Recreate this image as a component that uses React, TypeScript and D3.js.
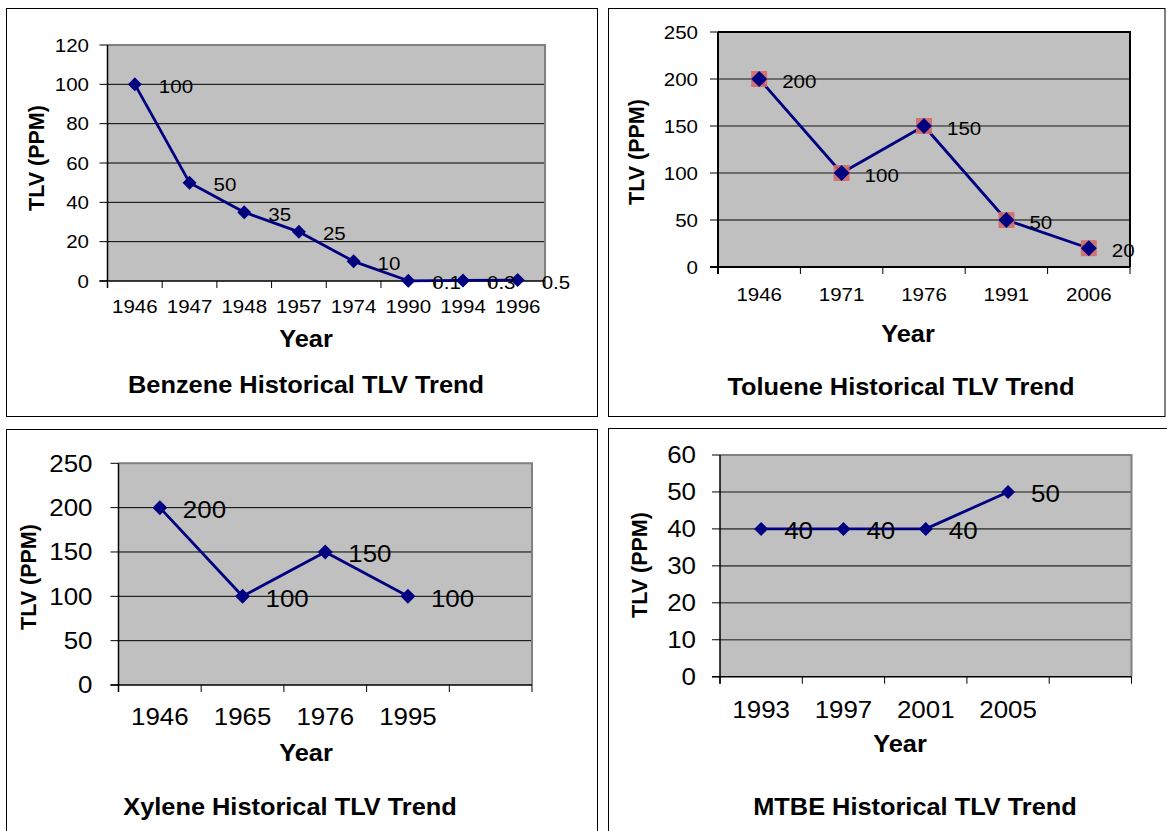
import React from "react";
import * as d3 from "d3";

// ---- data ----
const benzeneYears = ["1946", "1947", "1948", "1957", "1974", "1990", "1994", "1996"];
const benzeneTlv = [100, 50, 35, 25, 10, 0.1, 0.3, 0.5];
const benzeneTicks = [0, 20, 40, 60, 80, 100, 120];

const tolueneYears = ["1946", "1971", "1976", "1991", "2006"];
const tolueneTlv = [200, 100, 150, 50, 20];
const tolueneTicks = [0, 50, 100, 150, 200, 250];

// the last category slot on these two axes is left empty
const xyleneYears = ["1946", "1965", "1976", "1995", ""];
const xyleneTlv = [200, 100, 150, 100];
const xyleneTicks = [0, 50, 100, 150, 200, 250];

const mtbeYears = ["1993", "1997", "2001", "2005", ""];
const mtbeTlv = [40, 40, 40, 50];
const mtbeTicks = [0, 10, 20, 30, 40, 50, 60];

const W = 1167;
const H = 831;
const SX = 1.08; // horizontal text widening
const FONT = "Arial, 'Liberation Sans', Helvetica, sans-serif";
const NAVY = "#000080";
const PLOT_FILL = "#c0c0c0";

type PanelCfg = {
  title: string;
  years: string[];
  values: number[];
  ticks: number[];
  frame: { x: number; y: number; w: number; h: number };
  plot: { l: number; r: number; t: number; b: number };
  yLabelX: number;
  xLabelBase: number;
  yearBase: number;
  yearX: number;
  titleBase: number;
  titleX: number;
  tlvX: number;
  tlvY: number;
  fs: number;
  grid: string;
  gridW: number;
  blackGrid: number[];
  border: "gray" | "black";
  marker: number;
  squares: boolean;
  labelOff: number;
};

function SText(props: {
  x: number;
  y: number;
  size: number;
  anchor?: "start" | "middle" | "end";
  bold?: boolean;
  children: React.ReactNode;
}) {
  const { x, y, size, anchor = "start", bold, children } = props;
  return (
    <text
      transform={`translate(${x},${y}) scale(${SX},1)`}
      textAnchor={anchor}
      fontSize={size}
      fontWeight={bold ? "bold" : "normal"}
      fontFamily={FONT}
      fill="#000"
    >
      {children}
    </text>
  );
}

function fmt(v: number) {
  return String(v);
}

function Panel({ c }: { c: PanelCfg }) {
  const { plot } = c;
  const x = d3
    .scaleBand<number>()
    .domain(c.years.map((_, i) => i))
    .range([plot.l, plot.r])
    .paddingInner(0)
    .paddingOuter(0);
  const y = d3
    .scaleLinear()
    .domain([0, c.ticks[c.ticks.length - 1]])
    .range([plot.b, plot.t]);
  const cx = (i: number) => (x(i) as number) + x.bandwidth() / 2;
  const line = d3
    .line<number>()
    .x((_, i) => cx(i))
    .y((v) => y(v));
  const bounds = c.years.map((_, i) => x(i) as number).concat([plot.r]);
  const yTicks = c.ticks;
  const top = c.ticks[c.ticks.length - 1];
  const m = c.marker / 2;
  const borderColor = c.border === "black" ? "#000" : "#808080";

  return (
    <g>
      <rect
        x={c.frame.x}
        y={c.frame.y}
        width={c.frame.w}
        height={c.frame.h}
        fill="#fff"
        stroke="#000"
        strokeWidth={1}
      />
      <rect x={plot.l} y={plot.t} width={plot.r - plot.l} height={plot.b - plot.t} fill={PLOT_FILL} />
      {/* gridlines */}
      {yTicks
        .filter((t) => t > 0 && t < top)
        .map((t) => (
          <line
            key={"g" + t}
            x1={plot.l}
            x2={plot.r}
            y1={y(t)}
            y2={y(t)}
            stroke={c.blackGrid.includes(t) ? "#000" : c.grid}
            strokeWidth={c.blackGrid.includes(t) ? 1 : c.gridW}
          />
        ))}
      {/* plot border */}
      <path
        d={`M${plot.l},${plot.t}H${plot.r}V${plot.b}`}
        fill="none"
        stroke={borderColor}
        strokeWidth={2}
      />
      {/* axes */}
      <line x1={plot.l} x2={plot.l} y1={plot.t} y2={plot.b + 7} stroke="#000" strokeWidth={c.border === "black" ? 2 : 1.5} />
      <line x1={plot.l - 8} x2={plot.r} y1={plot.b} y2={plot.b} stroke="#000" strokeWidth={c.border === "black" ? 2 : 1.5} />
      {yTicks.map((t) => (
        <g key={"y" + t}>
          <line x1={plot.l - 8} x2={plot.l} y1={y(t)} y2={y(t)} stroke="#000" strokeWidth={1} />
          <SText x={c.yLabelX} y={y(t) + c.fs * 0.35} size={c.fs} anchor="end">
            {fmt(t)}
          </SText>
        </g>
      ))}
      {bounds.map((bx, i) => (
        <line key={"xt" + i} x1={bx} x2={bx} y1={plot.b} y2={plot.b + 7} stroke="#000" strokeWidth={1} />
      ))}
      {c.years.map((yr, i) =>
        yr ? (
          <SText key={"xl" + i} x={cx(i)} y={c.xLabelBase} size={c.fs} anchor="middle">
            {yr}
          </SText>
        ) : null
      )}
      {/* series */}
      <path d={line(c.values) || ""} fill="none" stroke={NAVY} strokeWidth={2.8} strokeLinejoin="round" />
      {c.values.map((v, i) => (
        <g key={"m" + i} transform={`translate(${cx(i)},${y(v)})`}>
          {c.squares && (
            <rect x={-8} y={-8} width={16} height={16} fill="#d26a6a" opacity={0.9} />
          )}
          <path d={`M0,${-m}L${m},0L0,${m}L${-m},0Z`} fill={NAVY} />
        </g>
      ))}
      {c.values.map((v, i) => (
        <SText key={"v" + i} x={cx(i) + c.labelOff} y={y(v) + 2 + c.fs * 0.35} size={c.fs}>
          {fmt(v)}
        </SText>
      ))}
      {/* titles */}
      <SText x={c.yearX} y={c.yearBase} size={23.5} anchor="middle" bold>
        Year
      </SText>
      <SText x={c.titleX} y={c.titleBase} size={23.5} anchor="middle" bold>
        {c.title}
      </SText>
      <text
        transform={`translate(${c.tlvX},${c.tlvY}) rotate(-90)`}
        textAnchor="middle"
        fontSize={21.5}
        fontWeight="bold"
        fontFamily={FONT}
      >
        TLV (PPM)
      </text>
    </g>
  );
}

const panels: PanelCfg[] = [
  {
    title: "Benzene Historical TLV Trend",
    years: benzeneYears,
    values: benzeneTlv,
    ticks: benzeneTicks,
    frame: { x: 6.5, y: 8.5, w: 591, h: 408 },
    plot: { l: 107.5, r: 545, t: 45, b: 281 },
    yLabelX: 89,
    xLabelBase: 312.5,
    yearBase: 346.5,
    yearX: 306,
    titleBase: 392.5,
    titleX: 306,
    tlvX: 44,
    tlvY: 158,
    fs: 19,
    grid: "#000",
    gridW: 1,
    blackGrid: [],
    border: "gray",
    marker: 14,
    squares: false,
    labelOff: 24,
  },
  {
    title: "Toluene Historical TLV Trend",
    years: tolueneYears,
    values: tolueneTlv,
    ticks: tolueneTicks,
    frame: { x: 608.5, y: 8.5, w: 556.5, h: 408 },
    plot: { l: 718, r: 1130, t: 32, b: 267 },
    yLabelX: 698,
    xLabelBase: 300.5,
    yearBase: 341.5,
    yearX: 908,
    titleBase: 395,
    titleX: 901,
    tlvX: 644,
    tlvY: 152,
    fs: 19,
    grid: "#505050",
    gridW: 1.6,
    blackGrid: [50],
    border: "black",
    marker: 16,
    squares: true,
    labelOff: 23,
  },
  {
    title: "Xylene Historical TLV Trend",
    years: xyleneYears,
    values: xyleneTlv,
    ticks: xyleneTicks,
    frame: { x: 6.5, y: 429.5, w: 591, h: 410 },
    plot: { l: 118.5, r: 532, t: 463.3, b: 685 },
    yLabelX: 92.5,
    xLabelBase: 725,
    yearBase: 760.5,
    yearX: 306,
    titleBase: 815,
    titleX: 290,
    tlvX: 36,
    tlvY: 577,
    fs: 24,
    grid: "#000",
    gridW: 1,
    blackGrid: [],
    border: "gray",
    marker: 15,
    squares: false,
    labelOff: 23,
  },
  {
    title: "MTBE Historical TLV Trend",
    years: mtbeYears,
    values: mtbeTlv,
    ticks: mtbeTicks,
    frame: { x: 608.5, y: 428.5, w: 570, h: 410 },
    plot: { l: 720, r: 1131.5, t: 455, b: 676.7 },
    yLabelX: 696,
    xLabelBase: 717.5,
    yearBase: 751.5,
    yearX: 900,
    titleBase: 815,
    titleX: 915,
    tlvX: 647,
    tlvY: 565,
    fs: 24,
    grid: "#505050",
    gridW: 1.6,
    blackGrid: [],
    border: "gray",
    marker: 14,
    squares: false,
    labelOff: 23,
  },
];

export default function App() {
  return (
    <svg
      width={W}
      height={H}
      viewBox={`0 0 ${W} ${H}`}
      style={{ position: "absolute", left: 0, top: 0, background: "#fff" }}
    >
      <rect width={W} height={H} fill="#fff" />
      {panels.map((p) => (
        <Panel key={p.title} c={p} />
      ))}
    </svg>
  );
}
